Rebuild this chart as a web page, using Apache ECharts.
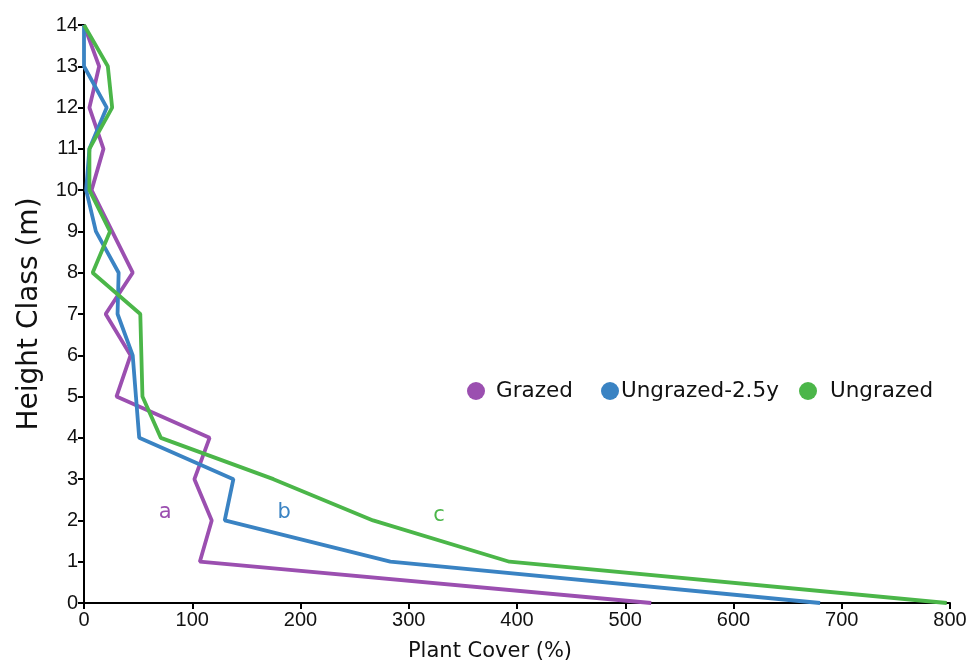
<!DOCTYPE html>
<html>
<head>
<meta charset="utf-8">
<script src="https://cdn.jsdelivr.net/npm/echarts@6/dist/echarts.min.js"></script>
<style>
  html, body { margin: 0; padding: 0; background: #fff; }
  #chart { width: 975px; height: 661px; }
</style>
</head>
<body>
<div id="chart"></div>
<script>
var heights = [0, 1, 2, 3, 4, 5, 6, 7, 8, 9, 10, 11, 12, 13, 14];
var grazed = [524, 107, 118, 102, 116, 30, 43, 20, 45, 26, 7, 18, 5, 14, 0];
var ungrazed25 = [680, 283, 130, 138, 51, 48, 45, 31, 32, 11, 2, 5, 21, 0, 0];
var ungrazed = [797, 393, 267, 175, 71, 54, 53, 52, 8, 24, 5, 5, 26, 22, 0];
var seriesNames = ['Grazed', 'Ungrazed-2.5y', 'Ungrazed'];
var colors = ['#9b4fb0', '#3a83c3', '#4bb649'];
var letters = ['a', 'b', 'c'];
var letterPos = [[75, 2.18], [185, 2.18], [328, 2.12]];

function pairs(values) {
  return values.map(function (v, i) { return [v, heights[i]]; });
}

function makeSeries(idx, values) {
  return {
    name: seriesNames[idx],
    type: 'line',
    symbol: 'none',
    data: pairs(values),
    lineStyle: { width: 3.8, color: colors[idx] },
    itemStyle: { color: colors[idx] },
    markPoint: {
      symbol: 'circle',
      symbolSize: 0,
      silent: true,
      label: {
        show: true,
        position: 'inside',
        formatter: letters[idx],
        color: colors[idx],
        fontFamily: 'DejaVu Sans',
        fontSize: 21
      },
      data: [{ coord: letterPos[idx] }]
    }
  };
}

function makeLegend(idx, left, gap) {
  return {
    left: left,
    top: 380,
    padding: 0,
    itemWidth: 18,
    itemHeight: 18,
    icon: 'circle',
    data: [seriesNames[idx]],
    textStyle: {
      fontFamily: 'DejaVu Sans',
      fontSize: 21.5,
      color: '#111',
      padding: [0, 0, 0, gap]
    }
  };
}

var axisLineStyle = { lineStyle: { color: '#000', width: 2 } };

var myChart = echarts.init(document.getElementById('chart'));
var option = {
  animation: false,
  grid: { left: 84, right: 25, top: 25, bottom: 58, outerBoundsMode: 'none', containLabel: false },
  legend: [makeLegend(0, 467, 6), makeLegend(1, 601, -3), makeLegend(2, 799, 8)],
  xAxis: {
    type: 'value',
    min: 0,
    max: 800,
    interval: 100,
    name: 'Plant Cover (%)',
    nameLocation: 'middle',
    nameGap: 38,
    nameTextStyle: {
      fontFamily: 'DejaVu Sans',
      fontSize: 21,
      color: '#111',
      padding: [0, 54, 0, 0]
    },
    axisLine: axisLineStyle,
    axisTick: { show: true, length: 6, lineStyle: { color: '#000', width: 2 } },
    axisLabel: { fontFamily: 'Liberation Sans', fontSize: 20, color: '#111', margin: 7 },
    splitLine: { show: false }
  },
  yAxis: {
    type: 'value',
    min: 0,
    max: 14,
    interval: 1,
    name: 'Height Class (m)',
    nameLocation: 'middle',
    nameGap: 40,
    nameTextStyle: {
      fontFamily: 'DejaVu Sans',
      fontSize: 28,
      color: '#111'
    },
    axisLine: axisLineStyle,
    axisTick: { show: true, length: 6, lineStyle: { color: '#000', width: 2 } },
    axisLabel: { fontFamily: 'Liberation Sans', fontSize: 20, color: '#111', margin: 6 },
    splitLine: { show: false }
  },
  series: [
    makeSeries(0, grazed),
    makeSeries(1, ungrazed25),
    makeSeries(2, ungrazed)
  ]
};
myChart.setOption(option);
</script>
</body>
</html>
